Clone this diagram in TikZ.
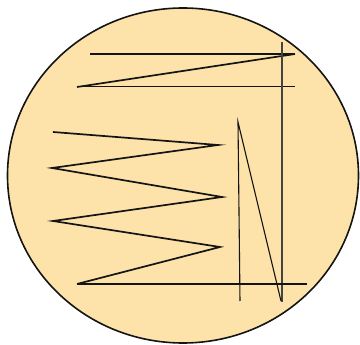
\documentclass[tikz,border=0pt]{standalone}
\usetikzlibrary{calc}
\definecolor{agar}{RGB}{253,226,170}
\definecolor{ink}{RGB}{20,20,20}
\tikzset{
  plate/.style={draw=ink,line width=1.6pt,fill=agar},
  streak/.style={draw=ink,line width=#1,line join=miter},
  streak/.default=1.3pt,
}
\begin{document}
\begin{tikzpicture}[x=1pt,y=-1pt]
  \useasboundingbox (0,0) rectangle (360,345);
  % plate
  \draw[plate] (183,175.5) ellipse [x radius=175.5,y radius=167.5];
  % first streak
  \draw[streak=2.2pt] (90,54) -- (295,54);
  \draw[streak=1.7pt] (295,54) -- (77,87);
  \draw[streak=1pt] (77,87) -- (295,87);
  % cross line
  \draw[streak=1.5pt,ink!80] (282,42) -- (282,302);
  % zigzag
  \draw[streak=1.7pt] (53,132) -- (218,145) -- (52,168) -- (222,197)
    -- (53,221) -- (220,247) -- (77,284);
  \draw[streak=2.2pt] (77,284) -- (307,284);
  % last streak
  \draw[streak=1.1pt] (240,301) -- (238,122) -- (281,301);
\end{tikzpicture}
\end{document}
